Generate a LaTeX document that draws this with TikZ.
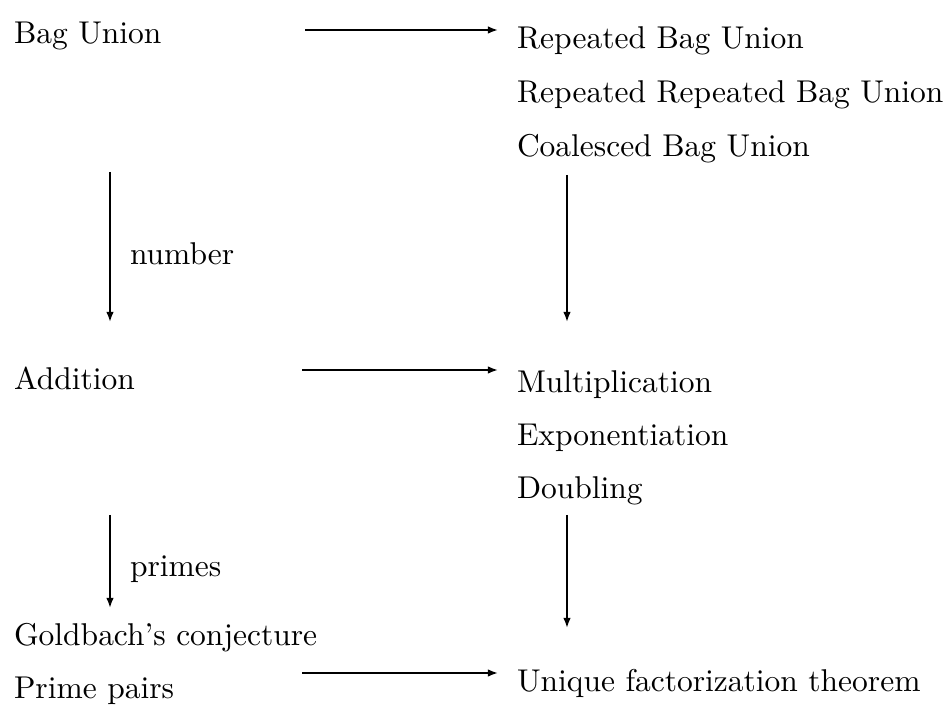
\documentclass[tikz,border=0pt]{standalone}
\usetikzlibrary{arrows.meta}
\begin{document}
\begin{tikzpicture}[x=0.3175pt,y=-0.3175pt,
  lbl/.style={anchor=base west,inner sep=0pt,outer sep=0pt,font=\normalsize},
  arr/.style={line width=0.55pt,-{Latex[length=3.2pt,width=2.4pt]}}]
\useasboundingbox (0,0) rectangle (951,711);
% left column
\node[lbl] (bag) at (14,44) {Bag Union};
\node[lbl] (add) at (14,390) {Addition};
\node[lbl] (gold) at (14,646) {Goldbach's conjecture};
\node[lbl] (prime) at (14,699) {Prime pairs};
% right column
\node[lbl] (rbu) at (517,49) {Repeated Bag Union};
\node[lbl] (rrbu) at (517,103) {Repeated Repeated Bag Union};
\node[lbl] (cbu) at (517,157) {Coalesced Bag Union};
\node[lbl] (mult) at (517,393) {Multiplication};
\node[lbl] (expo) at (517,446) {Exponentiation};
\node[lbl] (dbl) at (517,499) {Doubling};
\node[lbl] (uft) at (517,692) {Unique factorization theorem};
% labels
\node[lbl] (num) at (130,265) {number};
\node[lbl] (pri) at (130,577) {primes};
% arrow end points
\coordinate (h1s) at (305,30);  \coordinate (h1e) at (498,30);
\coordinate (h2s) at (302,370); \coordinate (h2e) at (498,370);
\coordinate (h3s) at (302,673); \coordinate (h3e) at (498,673);
\coordinate (v1s) at (110,172); \coordinate (v1e) at (110,322);
\coordinate (v2s) at (567,175); \coordinate (v2e) at (567,322);
\coordinate (v3s) at (110,515); \coordinate (v3e) at (110,608);
\coordinate (v4s) at (567,515); \coordinate (v4e) at (567,628);
\draw[arr] (h1s) -- (h1e);
\draw[arr] (h2s) -- (h2e);
\draw[arr] (h3s) -- (h3e);
\draw[arr] (v1s) -- (v1e);
\draw[arr] (v2s) -- (v2e);
\draw[arr] (v3s) -- (v3e);
\draw[arr] (v4s) -- (v4e);
\end{tikzpicture}
\end{document}
